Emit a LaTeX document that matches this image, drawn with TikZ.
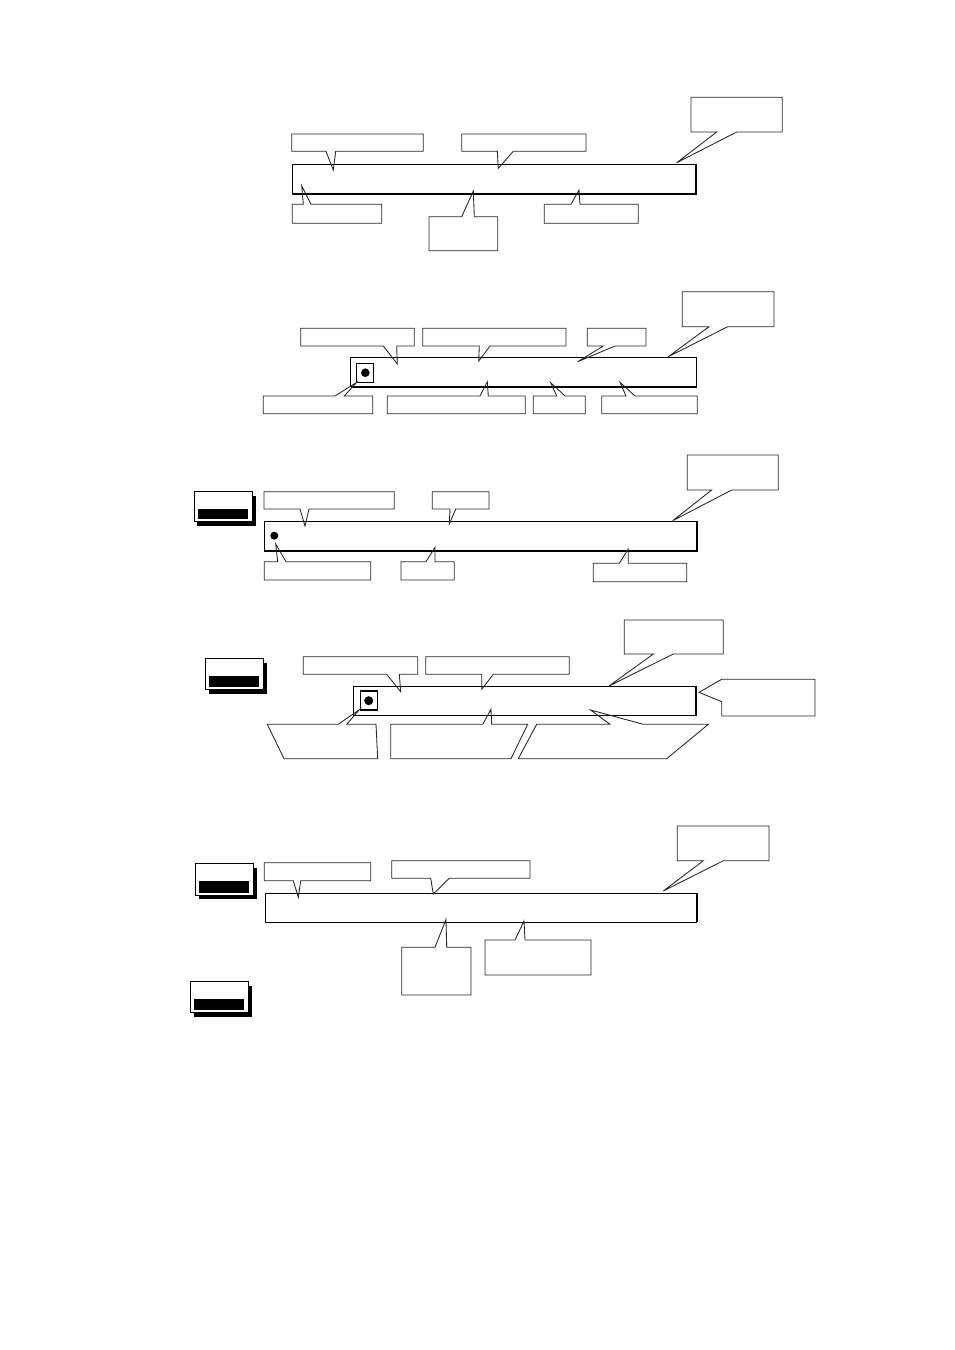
\documentclass[tikz,border=0pt]{standalone}
\begin{document}
\begin{tikzpicture}[x=0.75pt,y=-0.75pt,
  callout/.style={draw=black!85,line width=0.65pt,line join=miter},
  bar/.style={draw=black,line width=0.8pt},
  thickedge/.style={draw=black,line width=1.6pt},
  dotmark/.style={fill=black}]
\useasboundingbox (0,0) rectangle (954,1350);
% callout with tail leaving the bottom edge
\newcommand\CalB[8]{\draw[callout] (#1,#2) -- (#3,#2) -- (#3,#4) -- (#6,#4) -- (#7,#8) -- (#5,#4) -- (#1,#4) -- cycle;}
% callout with tail leaving the top edge
\newcommand\CalT[8]{\draw[callout] (#1,#2) -- (#5,#2) -- (#7,#8) -- (#6,#2) -- (#3,#2) -- (#3,#4) -- (#1,#4) -- cycle;}
% label box with shadow
\newcommand\LabBox[4]{%
  \fill[black] ({#1+3},{#2+4.3}) rectangle ({#3+3.3},{#4+4.3});
  \draw[fill=white,draw=black,line width=0.7pt] (#1,#2) rectangle (#3,#4);
  \fill[black] ({#1+3.7},{#2+17.5}) rectangle ({#3-4.3},{#4-2.5});}

% ---------------- panel 1
\draw[bar] (292.3,164.3) rectangle (696.3,194);
\draw[thickedge] (292.3,194) -- (696.3,194) -- (696.3,164.3);
\CalB{291.7}{134}{423.3}{151.3}{326}{335.7}{333.3}{170}
\CalB{461.7}{134}{586}{151.3}{497.3}{513.3}{498.3}{168.3}
\CalB{691}{97.3}{782.3}{132}{716.7}{736.7}{676.7}{162.7}
\CalT{292.3}{204.3}{381.7}{223.3}{303.3}{311}{301.7}{185.7}
\CalT{429}{216.7}{497.7}{250.7}{461.7}{474.3}{473.3}{191}
\CalT{544.3}{204.3}{638.3}{223.3}{571}{580}{579}{190}

% ---------------- panel 2
\draw[bar] (350.7,357.3) rectangle (696.7,386.7);
\draw[thickedge] (350.7,386.7) -- (696.7,386.7);
\draw[bar] (356.7,363.3) rectangle (373.3,382.7);
\fill[dotmark] (365.3,372.7) circle (4.3);
\CalB{300.7}{328.3}{414.3}{346}{383.3}{396.7}{397.3}{364}
\CalB{422.7}{328.3}{566}{346}{479.3}{490}{478.7}{361}
\CalB{587.3}{328.3}{646}{346}{603.3}{615}{577.7}{361.7}
\CalB{682.3}{291.7}{774}{326.7}{709}{727.7}{668.3}{356.7}
\CalT{263.3}{396}{372.7}{413.7}{335}{344.3}{356.7}{382.3}
\CalT{387.3}{396}{525.3}{413.7}{480}{488.3}{487.3}{381.7}
\CalT{533.3}{396}{585.3}{413.7}{556.7}{565}{550.7}{382.7}
\CalT{601.7}{396}{697.3}{413.7}{626}{635}{620}{382.3}

% ---------------- panel 3
\LabBox{194.3}{491.7}{252.7}{521.7}
\draw[bar] (264.3,521.3) rectangle (697.3,550.7);
\draw[thickedge] (264.3,550.7) -- (697.3,550.7) -- (697.3,521.3);
\fill[dotmark] (274.3,535.7) circle (4);
\CalB{264}{491.7}{394.3}{509}{300}{309}{305}{526}
\CalB{432.3}{491.7}{489}{509}{450}{455.7}{449.3}{524}
\CalB{687.3}{455}{778.3}{490}{711.7}{731.7}{672.7}{520.7}
\CalT{264.3}{561.7}{370.7}{580}{277.7}{286}{275.7}{544}
\CalT{401}{561.7}{454.3}{580}{426}{435}{435}{547.3}
\CalT{593.3}{563.3}{686.7}{581.7}{619.3}{628.3}{628.3}{549}

% ---------------- panel 4
\LabBox{205.7}{658.3}{263.7}{689.3}
\draw[bar] (353.3,686.3) rectangle (696,715.3);
\draw[bar] (360.3,691) rectangle (377.7,710);
\fill[dotmark] (368.7,700.7) circle (4.5);
\CalB{303.3}{656.7}{417.7}{674.3}{386.7}{399.3}{400.7}{691.7}
\CalB{425.7}{656.7}{569.3}{674.3}{481.7}{493.3}{481.7}{689.3}
\CalB{624.3}{620}{723.3}{654}{653.3}{673.3}{609}{686}
\draw[callout] (721.7,679.3) -- (815,679.3) -- (815,716) -- (721.7,716) -- (721.7,701.7) -- (699,692.3) -- cycle;
\draw[callout] (267.3,724.3) -- (338.3,724.3) -- (359.3,709.7) -- (346.7,724.3) -- (376,724.3) -- (377.7,758.7) -- (284,758.7) -- cycle;
\draw[callout] (390.7,724.3) -- (482.7,724.3) -- (491,709.3) -- (491.7,724.3) -- (527.7,724.3) -- (511,758.7) -- (390.7,758.7) -- cycle;
\draw[callout] (536.7,724.3) -- (610,724.3) -- (590.7,710) -- (643.3,724.3) -- (708.3,724.3) -- (666.7,758.7) -- (518.3,758.7) -- cycle;

% ---------------- panel 5
\LabBox{195.7}{863.3}{253.3}{895}
\LabBox{190.7}{981.7}{248.3}{1012.3}
\draw[bar] (265.7,893.3) rectangle (696.7,922.3);
\draw[thickedge] (696.7,893.3) -- (696.7,922.3);
\CalB{264.3}{862.7}{370.7}{880.7}{293.3}{300.7}{298.3}{897.3}
\CalB{391.7}{860.7}{530}{878.3}{430.7}{449.3}{433.3}{894}
\CalB{677.3}{826}{769}{860.7}{703.3}{723.3}{663.3}{891}
\CalT{401.7}{947.3}{471}{995}{435}{446.7}{446}{919.3}
\CalT{485}{940}{591}{975}{515}{525}{524}{921}
\end{tikzpicture}
\end{document}
